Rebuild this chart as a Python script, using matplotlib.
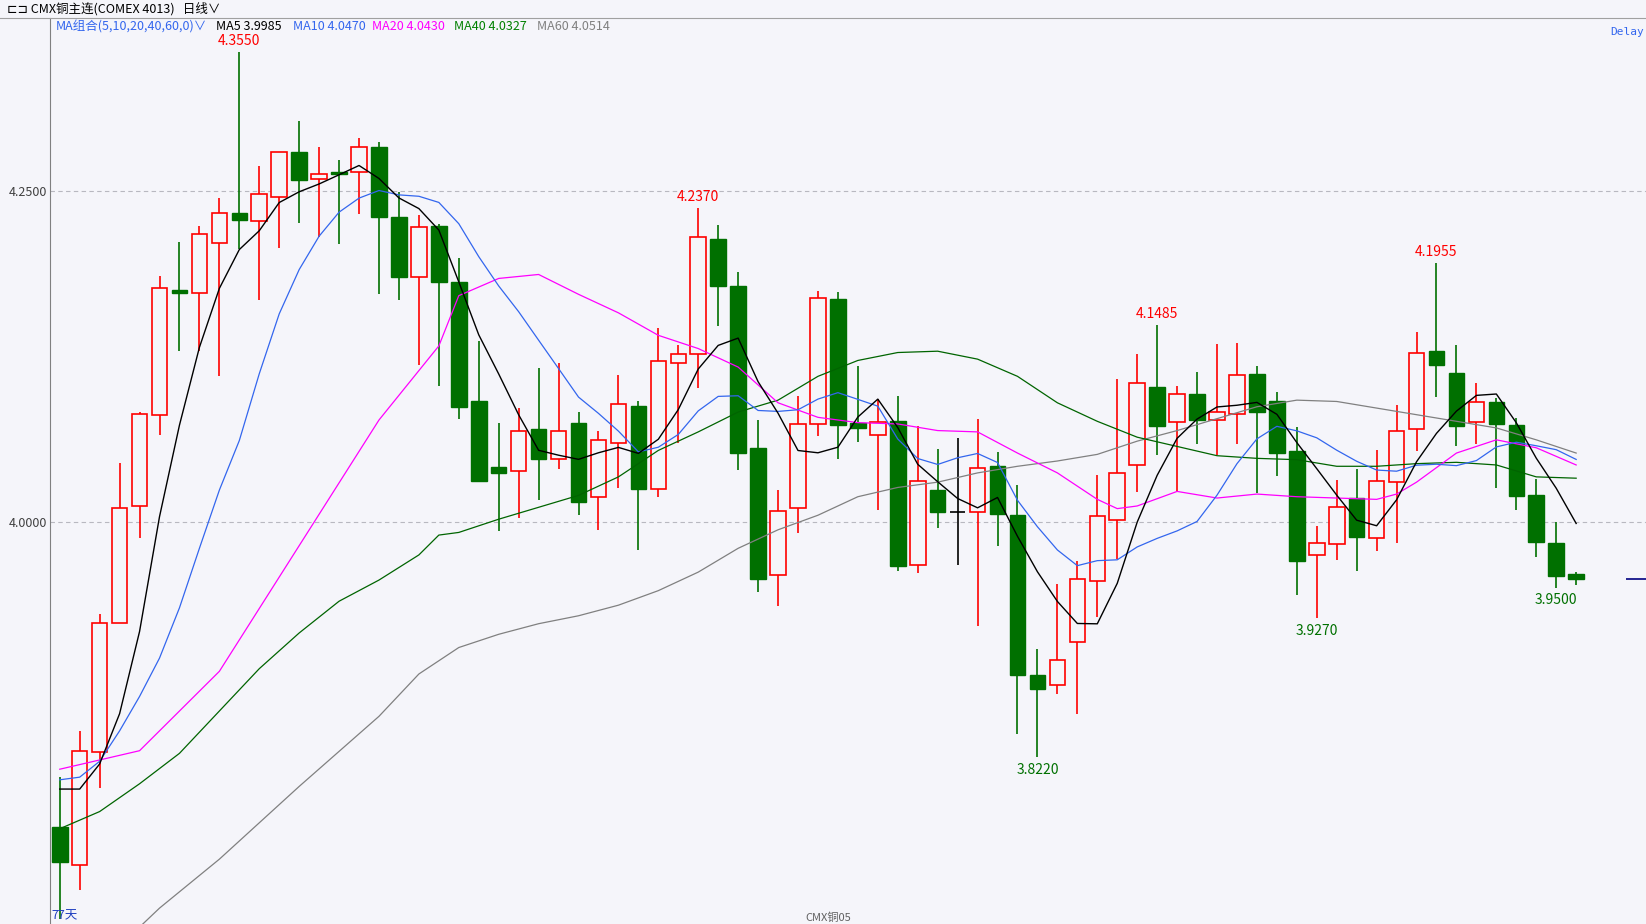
import numpy as np
import matplotlib.pyplot as plt
from matplotlib.patches import Rectangle

plt.rcParams['font.family'] = ['Noto Sans CJK SC', 'DejaVu Sans']

# ---- daily candles (open, high, low, close) ----
opens = [3.7695, 3.7407, 3.8257, 3.9239, 4.0118, 4.0804, 4.1756, 4.1730, 4.2107, 4.2335,
         4.2272, 4.2458, 4.2796, 4.2593, 4.2648, 4.2644, 4.2830, 4.2305, 4.1849, 4.2238,
         4.1815, 4.0913, 4.0414, 4.0384, 4.0700, 4.0474, 4.0745, 4.0188, 4.0594, 4.0873,
         4.0248, 4.1199, 4.1266, 4.2136, 4.1783, 4.0559, 3.9601, 4.0105, 4.0742, 4.1685,
         4.0745, 4.0654, 4.0762, 3.9677, 4.0241, 4.0078, 4.0078, 4.0424, 4.0053, 3.8844,
         3.8769, 3.9090, 3.9554, 4.0015, 4.0429, 4.1018, 4.0752, 4.0970, 4.0767, 4.0817,
         4.1121, 4.0913, 4.0537, 3.9747, 3.9830, 4.0180, 3.9875, 4.0301, 4.0700, 4.1289,
         4.1123, 4.0752, 4.0903, 4.0732, 4.0206, 3.9837, 3.9604]
highs = [3.8071, 3.8422, 3.9302, 4.0444, 4.0833, 4.1857, 4.2119, 4.2234, 4.2449, 4.3550,
         4.2690, 4.2796, 4.3033, 4.2830, 4.2737, 4.2902, 4.2872, 4.2496, 4.2322, 4.2250,
         4.1993, 4.1364, 4.0745, 4.0858, 4.1166, 4.1204, 4.0827, 4.0685, 4.1113, 4.0913,
         4.1469, 4.1339, 4.2370, 4.2244, 4.1891, 4.0770, 4.0243, 4.0948, 4.1748, 4.1740,
         4.1176, 4.0925, 4.0950, 4.0727, 4.0549, 4.0634, 4.0777, 4.0527, 4.0281, 3.9040,
         3.9529, 3.9704, 4.0351, 4.1078, 4.1266, 4.1485, 4.1026, 4.1133, 4.1342, 4.1352,
         4.1176, 4.0978, 4.0715, 3.9967, 4.0318, 4.0399, 4.0544, 4.0883, 4.1432, 4.1955,
         4.1334, 4.1053, 4.0935, 4.0782, 4.0326, 3.9997, 3.9621]
lows = [3.7000, 3.7217, 3.7986, 3.9239, 3.9877, 4.0656, 4.1290, 4.1290, 4.1104, 4.2060,
        4.1679, 4.2069, 4.2259, 4.2153, 4.2102, 4.2327, 4.1722, 4.1679, 4.1184, 4.1024,
        4.0780, 4.0300, 3.9930, 4.0030, 4.0163, 4.0399, 4.0053, 3.9937, 4.0253, 3.9787,
        4.0188, 4.0594, 4.1013, 4.1480, 4.0389, 3.9466, 3.9365, 3.9917, 4.0652, 4.0474,
        4.0607, 4.0088, 3.9629, 3.9616, 3.9952, 3.9674, 3.9215, 3.9817, 3.8400, 3.8220,
        3.8701, 3.8551, 3.9278, 3.9717, 4.0223, 4.0502, 4.0236, 4.0589, 4.0502, 4.0587,
        4.0218, 4.0344, 3.9448, 3.9270, 3.9712, 3.9629, 3.9779, 3.9842, 4.0532, 4.0945,
        4.0574, 4.0589, 4.0253, 4.0088, 3.9737, 3.9501, 3.9524]
closes = [3.7428, 3.8270, 3.9239, 4.0106, 4.0812, 4.1768, 4.1730, 4.2179, 4.2335, 4.2280,
          4.2479, 4.2796, 4.2585, 4.2631, 4.2627, 4.2830, 4.2305, 4.1849, 4.2229, 4.1815,
          4.0870, 4.0306, 4.0369, 4.0685, 4.0474, 4.0685, 4.0150, 4.0617, 4.0888, 4.0248,
          4.1219, 4.1271, 4.2151, 4.1780, 4.0524, 3.9571, 4.0080, 4.0742, 4.1693, 4.0735,
          4.0712, 4.0757, 3.9667, 4.0306, 4.0075, 4.0078, 4.0404, 4.0058, 3.8839, 3.8734,
          3.8957, 3.9571, 4.0045, 4.0369, 4.1048, 4.0725, 4.0970, 4.0772, 4.0827, 4.1113,
          4.0833, 4.0519, 3.9704, 3.9840, 4.0113, 3.9887, 4.0308, 4.0685, 4.1279, 4.1186,
          4.0727, 4.0903, 4.0737, 4.0193, 3.9847, 3.9591, 3.9571]

# MA values before enough closes are on the chart
ma5_head = [3.798, 3.798, 3.817, 3.855]
ma10_head = [3.805, 3.807, 3.819, 3.842, 3.868, 3.897, 3.935, 3.980, 4.024]

ma20_days = [1, 5, 9, 13, 17, 20, 21, 23, 25, 27, 29, 31, 33, 35, 37, 39, 41, 43, 45, 47,
             49, 51, 53, 54, 55, 57, 59, 61, 63, 65, 67, 68, 69, 71, 73, 75, 77]
ma20_vals = [3.813, 3.827, 3.887, 3.982, 4.077, 4.133, 4.171, 4.184, 4.187, 4.172,
             4.158, 4.141, 4.131, 4.117, 4.090, 4.079, 4.075, 4.074, 4.069, 4.068,
             4.052, 4.037, 4.017, 4.010, 4.012, 4.023, 4.018, 4.021, 4.019, 4.018,
             4.017, 4.021, 4.030, 4.052, 4.062, 4.056, 4.043]
ma40_days = [1, 3, 5, 7, 9, 11, 13, 15, 17, 19, 20, 21, 23, 25, 27, 29, 31, 33, 35, 37,
             39, 41, 43, 45, 47, 49, 51, 53, 55, 57, 59, 61, 63, 65, 67, 69, 71, 73, 75, 77]
ma40_vals = [3.768, 3.781, 3.802, 3.825, 3.857, 3.889, 3.916, 3.940, 3.956, 3.975,
             3.990, 3.992, 4.002, 4.011, 4.020, 4.034, 4.054, 4.068, 4.083, 4.092,
             4.110, 4.122, 4.128, 4.129, 4.123, 4.110, 4.090, 4.076, 4.064, 4.057,
             4.050, 4.048, 4.047, 4.042, 4.042, 4.044, 4.045, 4.043, 4.034, 4.033]
ma60_days = [1, 3, 6, 9, 13, 17, 19, 21, 23, 25, 27, 29, 31, 33, 35, 37, 39, 41, 43, 45,
             47, 49, 51, 53, 55, 57, 59, 61, 63, 65, 67, 69, 71, 73, 75, 77]
ma60_vals = [3.640, 3.665, 3.708, 3.745, 3.800, 3.853, 3.885, 3.905, 3.915, 3.923,
             3.929, 3.937, 3.948, 3.962, 3.980, 3.994, 4.005, 4.019, 4.026, 4.030,
             4.037, 4.042, 4.046, 4.051, 4.061, 4.069, 4.078, 4.087, 4.092, 4.091,
             4.086, 4.081, 4.076, 4.071, 4.062, 4.052]

marks_hi = [(10, "4.3550"), (33, "4.2370"), (56, "4.1485"), (70, "4.1955")]
marks_lo = [(50, "3.8220"), (64, "3.9270"), (76, "3.9500")]

RED = "#ff0000"
GREEN = "#007000"
BG = "#f5f5fa"

n = len(closes)
days = np.arange(1, n + 1)
c = np.array(closes)


def moving(values, w, head):
    out = list(head)
    for i in range(w - 1, len(values)):
        out.append(values[i - w + 1:i + 1].mean())
    return np.array(out)


ma5 = moving(c, 5, ma5_head)
ma10 = moving(c, 10, ma10_head)

fig = plt.figure(figsize=(16.46, 9.24), dpi=100, facecolor=BG)
ax = fig.add_axes([0.0306, 0.0, 0.9694, 0.9807])
ax.set_facecolor(BG)
ax.set_xlim(0.53, 80.5)
ax.set_ylim(3.696, 4.381)

for y in (4.0, 4.25):
    ax.axhline(y, color="#b8b8c0", lw=0.8, ls=(0, (4, 3)), zorder=0)

w = 0.78
for d, o, h, l, cl in zip(days, opens, highs, lows, closes):
    if cl > o:
        ax.vlines(d, l, h, color=RED, lw=1.2, zorder=2)
        ax.add_patch(Rectangle((d - w / 2, o), w, cl - o, facecolor=BG,
                               edgecolor=RED, lw=1.2, zorder=3))
    elif cl < o:
        ax.vlines(d, l, h, color=GREEN, lw=1.2, zorder=2)
        ax.add_patch(Rectangle((d - w / 2, cl), w, o - cl, facecolor=GREEN,
                               edgecolor=GREEN, lw=1.0, zorder=3))
    else:
        ax.vlines(d, l, h, color="black", lw=1.2, zorder=2)
        ax.hlines(o, d - w / 2, d + w / 2, color="black", lw=1.2, zorder=3)

ax.plot(ma60_days, ma60_vals, color="#808080", lw=0.9, zorder=4)
ax.plot(ma40_days, ma40_vals, color="#006400", lw=0.9, zorder=4)
ax.plot(ma20_days, ma20_vals, color="#ff00ff", lw=0.9, zorder=4)
ax.plot(days, ma10, color="#3366ee", lw=0.9, zorder=4)
ax.plot(days, ma5, color="black", lw=1.0, zorder=5)

for d, t in marks_hi:
    ax.text(d, highs[d - 1] + 0.003, t, color=RED, ha="center", va="bottom", fontsize=10)
for d, t in marks_lo:
    ax.text(d, lows[d - 1] - 0.004, t, color=GREEN, ha="center", va="top", fontsize=10)

# last price marker on the right
ax.hlines(closes[-1], 79.5, 80.5, color="#000080", lw=1.2)

for s in ("top", "right", "bottom"):
    ax.spines[s].set_visible(False)
ax.spines["left"].set_color("#808080")
ax.set_xticks([])
ax.set_yticks([4.0, 4.25])
ax.set_yticklabels(["4.0000", "4.2500"])
ax.tick_params(axis="y", length=0, labelsize=9, colors="#404040", pad=2)

ax.text(0.6, 3.697, "77天", color="#2040c0", fontsize=9, va="bottom")
ax.text(39.5, 3.697, "CMX铜05", color="#606060", fontsize=8, va="bottom", ha="center")
ax.text(0.999, 0.99, "Delay", transform=ax.transAxes, color="#3366ee",
        fontsize=8, ha="right", va="top", family="DejaVu Sans Mono")

# header
fig.add_artist(plt.Line2D([0, 1], [0.9807, 0.9807], color="#a0a0a0", lw=0.8))
fig.text(0.004, 0.9905, "⊏⊐ CMX铜主连(COMEX 4013)   日线∨", fontsize=9, va="center")
fig.text(0.034, 0.971, "MA组合(5,10,20,40,60,0)∨", color="#3366ee", fontsize=9, va="center")
legend = [("MA5 3.9985", "black", 0.131), ("MA10 4.0470", "#3366ee", 0.178),
          ("MA20 4.0430", "#ff00ff", 0.226), ("MA40 4.0327", "#008000", 0.276),
          ("MA60 4.0514", "#808080", 0.326)]
for t, col, x in legend:
    fig.text(x, 0.971, t, color=col, fontsize=9, va="center")

fig.savefig("out.png", dpi=100, facecolor=BG)
